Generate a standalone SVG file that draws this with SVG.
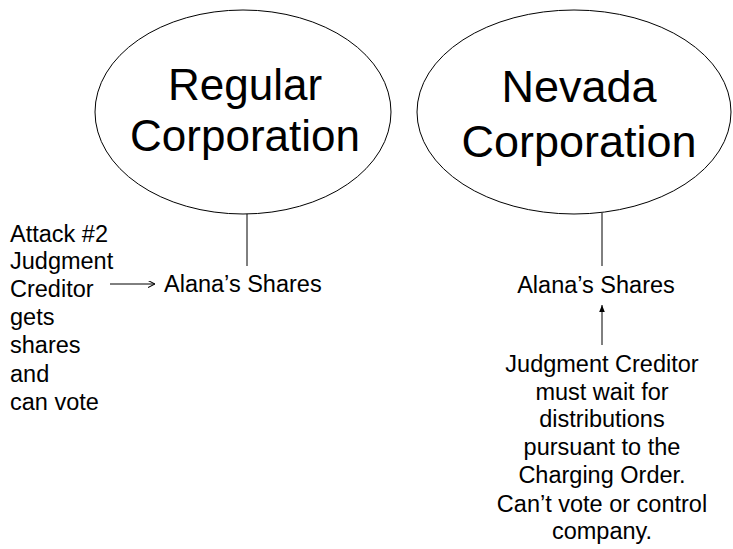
<svg xmlns="http://www.w3.org/2000/svg" width="733" height="549" viewBox="0 0 733 549">
<style>
.el{fill:#fff;stroke:#000;stroke-width:1}
.big{font-family:"Liberation Sans",Arial,sans-serif;font-size:44px;fill:#000;text-anchor:middle}
.t{font-family:"Liberation Sans",Arial,sans-serif;font-size:23.5px;fill:#000}
.c{text-anchor:middle}
.ln{stroke:#000;stroke-width:1;fill:none}
</style>
<defs>
<marker id="ah" viewBox="0 0 10 10" refX="10" refY="5" markerWidth="7" markerHeight="7" markerUnits="userSpaceOnUse" orient="auto">
<path d="M0,0 L10,5 L0,10" fill="none" stroke="#000" stroke-width="1.5"/>
</marker>
<marker id="ahf" viewBox="0 0 10 10" refX="10" refY="5" markerWidth="7" markerHeight="7" markerUnits="userSpaceOnUse" orient="auto">
<path d="M0,1 L10,5 L0,9 z" fill="#000"/>
</marker>
</defs>
<rect width="733" height="549" fill="#fff"/>
<g id="connectors">
<line class="ln" x1="247" y1="213" x2="247" y2="266"/>
<line class="ln" x1="602" y1="213" x2="602" y2="266"/>
<line class="ln" x1="110" y1="284" x2="155" y2="284" marker-end="url(#ah)"/>
<line class="ln" x1="602" y1="345" x2="602" y2="305" marker-end="url(#ahf)"/>
</g>
<g id="regular">
<ellipse class="el" cx="243" cy="112" rx="148" ry="102"/>
<text class="big" x="245" y="100">Regular</text>
<text class="big" x="245" y="151">Corporation</text>
</g>
<g id="nevada">
<ellipse class="el" cx="574" cy="112" rx="157" ry="102"/>
<text class="big" x="579" y="102" style="font-size:45px">Nevada</text>
<text class="big" x="579" y="157" style="font-size:45px">Corporation</text>
</g>
<g id="shares-left">
<text class="t" x="164" y="292">Alana’s Shares</text>
</g>
<g id="attack">
<text class="t" x="10"><tspan x="10" y="242">Attack #2</tspan><tspan x="10" y="269">Judgment</tspan><tspan x="10" y="297">Creditor</tspan><tspan x="10" y="325">gets</tspan><tspan x="10" y="353">shares</tspan><tspan x="10" y="382">and</tspan><tspan x="10" y="410">can vote</tspan></text>
</g>
<g id="shares-right">
<text class="t c" x="596" y="293">Alana’s Shares</text>
</g>
<g id="nevada-note">
<text class="t c"><tspan x="602" y="372">Judgment Creditor</tspan><tspan x="602" y="400">must wait for</tspan><tspan x="602" y="427">distributions</tspan><tspan x="602" y="455">pursuant to the</tspan><tspan x="602" y="483">Charging Order.</tspan><tspan x="602" y="512">Can’t vote or control</tspan><tspan x="602" y="539">company.</tspan></text>
</g>
</svg>
